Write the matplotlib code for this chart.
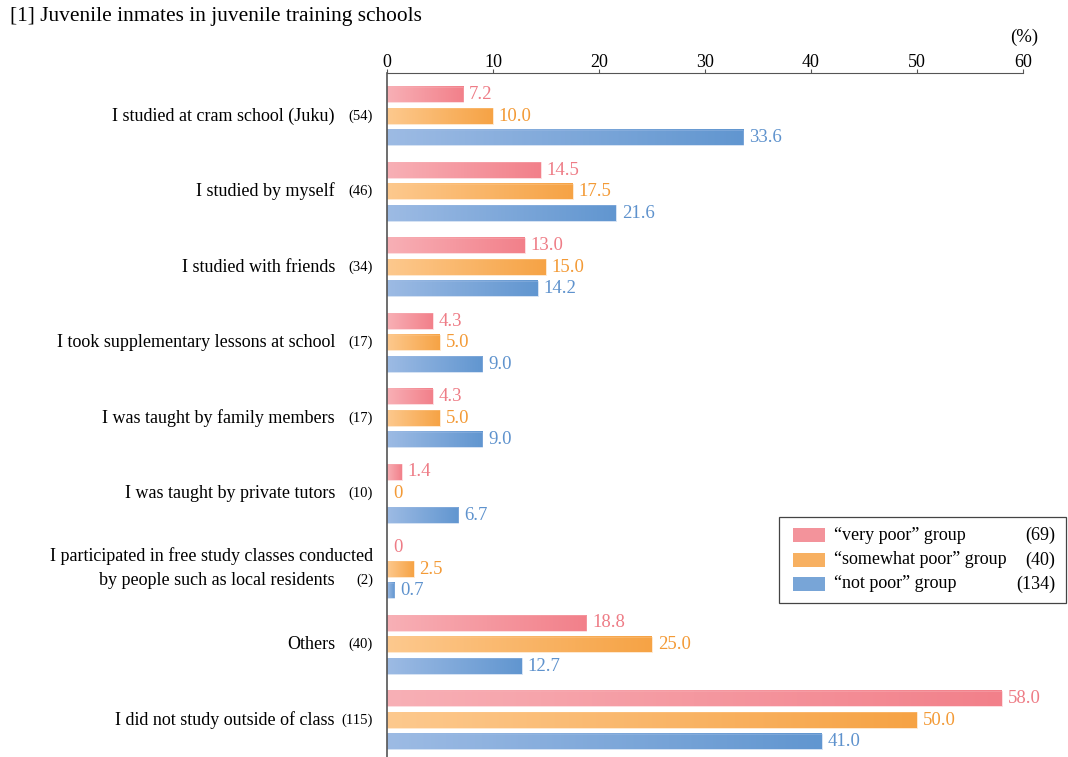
import numpy as np
import matplotlib.pyplot as plt
from matplotlib.colors import LinearSegmentedColormap
from matplotlib.patches import Rectangle

plt.rcParams['font.family'] = ['Liberation Serif', 'DejaVu Serif']

categories = ["I studied at cram school (Juku)", "I studied by myself", "I studied with friends",
              "I took supplementary lessons at school", "I was taught by family members",
              "I was taught by private tutors",
              "I participated in free study classes conducted\nby people such as local residents",
              "Others", "I did not study outside of class"]
cat_counts = ["(54)", "(46)", "(34)", "(17)", "(17)", "(10)", "(2)", "(40)", "(115)"]

very_poor = [7.2, 14.5, 13.0, 4.3, 4.3, 1.4, 0, 18.8, 58.0]
somewhat_poor = [10.0, 17.5, 15.0, 5.0, 5.0, 0, 2.5, 25.0, 50.0]
not_poor = [33.6, 21.6, 14.2, 9.0, 9.0, 6.7, 0.7, 12.7, 41.0]

series_names = ["\u201cvery poor\u201d group", "\u201csomewhat poor\u201d group", "\u201cnot poor\u201d group"]
series_n = ["(69)", "(40)", "(134)"]

grads = [("#F8B0B6", "#F2808A"), ("#FDC98E", "#F6A345"), ("#9DBBE4", "#6196D0")]
text_cols = ["#EE7C86", "#F39A36", "#5E92CD"]

fig = plt.figure(figsize=(10.68, 7.57), dpi=100)
ax = fig.add_axes([387/1068, 0, 636/1068, 1 - 73/757])

offsets = [-0.285, 0, 0.285]
h = 0.2
grad = np.linspace(0, 1, 256).reshape(1, -1)
for s, vals in enumerate([very_poor, somewhat_poor, not_poor]):
    cmap = LinearSegmentedColormap.from_list(f"g{s}", grads[s])
    for i, v in enumerate(vals):
        y = i + offsets[s]
        if v > 0:
            ax.imshow(grad, extent=(0, v, y + h/2, y - h/2), cmap=cmap, aspect='auto', zorder=2)
            ax.add_patch(Rectangle((0, y - h/2), v, h, fill=False, edgecolor=grads[s][0],
                                   lw=0.5, alpha=0.6, zorder=3))
        lab = "0" if v == 0 else f"{v:.1f}"
        ax.text(v + 0.55, y, lab, color=text_cols[s], fontsize=13.5, va='center', ha='left', zorder=4)

ax.set_xlim(0, 60)
ax.set_ylim(8.49, -0.57)
ax.xaxis.set_ticks_position('top')
ax.set_xticks(np.arange(0, 61, 10))
ax.tick_params(axis='x', direction='out', length=3, labelsize=13, color='#555555', pad=-1.5)
ax.set_yticks([])
for sp in ['right', 'bottom']:
    ax.spines[sp].set_visible(False)
ax.spines['top'].set_color('#555555')
ax.spines['left'].set_color('#555555')
ax.spines['left'].set_linewidth(1.2)
ax.spines['left'].set_zorder(6)
ax.spines['top'].set_zorder(6)

tr = ax.get_yaxis_transform()
for i, (c, n) in enumerate(zip(categories, cat_counts)):
    if "\n" in c:
        l1, l2 = c.split("\n")
        ax.text(-0.022, i - 0.17, l1, transform=tr, ha='right', va='center', fontsize=13)
        ax.text(-0.0818, i + 0.15, l2, transform=tr, ha='right', va='center', fontsize=13)
        ax.text(-0.022, i + 0.15, n, transform=tr, ha='right', va='center', fontsize=10.5)
    else:
        ax.text(-0.0818, i, c, transform=tr, ha='right', va='center', fontsize=13)
        ax.text(-0.022, i, n, transform=tr, ha='right', va='center', fontsize=10.5)

fig.text(10/1068, 1 - 17/757, "[1] Juvenile inmates in juvenile training schools", fontsize=15.4,
         ha='left', va='center')
fig.text(1024/1068, 1 - 37/757, "(%)", fontsize=13.5, ha='center', va='center')

# legend box
W, H = 1068, 757
fig.patches.append(Rectangle((779/W, 1 - 603/H), 287/W, 86/H, transform=fig.transFigure,
                             fill=False, edgecolor='#444444', lw=0.9))
rows = [535, 560, 584]
for s in range(3):
    y = 1 - rows[s]/H
    fig.patches.append(Rectangle((793/W, y - 7/H), 32/W, 14/H, transform=fig.transFigure,
                                 facecolor=grads[s][1], edgecolor='none', alpha=0.85))
    fig.text(834/W, y, series_names[s], fontsize=13, ha='left', va='center')
    fig.text(1055/W, y, series_n[s], fontsize=13, ha='right', va='center')

fig.savefig("out.png", dpi=100)
